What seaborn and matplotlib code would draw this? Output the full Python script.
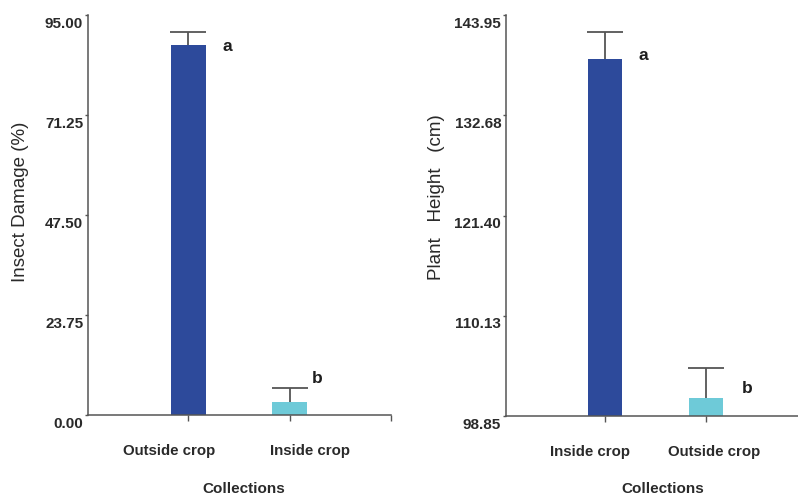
import numpy as np
import matplotlib
matplotlib.use("Agg")
import matplotlib.pyplot as plt
from matplotlib.transforms import ScaledTranslation
import seaborn as sns

# data
dmg_cats = ["Outside crop", "Inside crop"]
dmg_mean = [87.8, 3.2]
dmg_err = [3.2, 3.2]
dmg_ticks = [0.00, 23.75, 47.50, 71.25, 95.00]
dmg_letters = ["a", "b"]

hgt_cats = ["Inside crop", "Outside crop"]
hgt_mean = [139.0, 100.85]
hgt_err = [3.05, 3.4]
hgt_ticks = [98.85, 110.13, 121.40, 132.68, 143.95]
hgt_letters = ["a", "b"]

dark_blue = "#2d4a9b"
light_cyan = "#6ecad8"
grey = "#555555"
txt = "#2a2a2a"

sns.set_style("ticks")
plt.rcParams["font.family"] = ["Liberation Sans", "DejaVu Sans"]

fig = plt.figure(figsize=(7.98, 4.98), dpi=100)
ax1 = fig.add_axes([88 / 798, 1 - 415 / 498, 303 / 798, 400 / 498])
ax2 = fig.add_axes([506 / 798, 1 - 416 / 498, 301 / 798, 401 / 498])


def px(dx, dy):
    # pixel offset -> display transform
    return ScaledTranslation(dx / 100, dy / 100, fig.dpi_scale_trans)


def panel(ax, cats, mean, err, ticks, letters, ylabel, ylab_xy, xlab_xy,
          xlab_shift, letter_off, xlim):
    sns.barplot(x=cats, y=mean, hue=cats, order=cats, hue_order=cats,
                palette=[dark_blue, light_cyan], legend=False, width=0.34,
                saturation=1, ax=ax, linewidth=0)
    eb = ax.errorbar(range(len(cats)), mean, yerr=[np.zeros(len(err)), err],
                     fmt="none", ecolor=grey, elinewidth=1.3, capsize=13,
                     capthick=1.3, zorder=1)
    # only the upper cap is drawn in the original
    eb[1][0].set_visible(False)
    ax.set_xlim(*xlim)
    ax.set_ylim(ticks[0], ticks[-1])
    ax.set_yticks(ticks)
    ax.set_yticklabels(["%.2f" % t for t in ticks])
    for s in ["top", "right"]:
        ax.spines[s].set_visible(False)
    for s in ["left", "bottom"]:
        ax.spines[s].set_color(grey)
        ax.spines[s].set_linewidth(1.1)
    ax.tick_params(axis="y", length=2.5, width=1, color=grey, pad=1,
                   labelsize=11, labelcolor=txt)
    ax.tick_params(axis="x", length=4, width=1, color=grey, pad=17,
                   labelsize=10.8, labelcolor=txt)
    for lab in ax.get_yticklabels():
        lab.set_fontweight("bold")
        lab.set_transform(lab.get_transform() + px(0, -7))
    for lab, sh in zip(ax.get_xticklabels(), xlab_shift):
        lab.set_fontweight("bold")
        lab.set_transform(lab.get_transform() + px(sh, 0))
    ax.set_xlabel("Collections", fontsize=11, fontweight="bold", color=txt)
    ax.xaxis.set_label_coords(*xlab_xy)
    ax.set_ylabel(ylabel, fontsize=13.5, color=txt)
    ax.yaxis.set_label_coords(*ylab_xy)
    for i, (m, l, off) in enumerate(zip(mean, letters, letter_off)):
        ax.annotate(l, (i, m), xytext=(off[0] * 0.72, off[1] * 0.72),
                    textcoords="offset points", ha="center", va="center",
                    fontsize=12.5, fontweight="bold", color="#1e1e1e")


panel(ax1, dmg_cats, dmg_mean, dmg_err, dmg_ticks, dmg_letters,
      "Insect Damage (%)", (-0.195, 0.534), (0.515, -0.167),
      [-19, 20], [(39, -1), (28, 23)], (-0.99, 2.0))
ax1.set_xticks([2.0], minor=True)
ax1.tick_params(axis="x", which="minor", length=4, width=1, color=grey)

panel(ax2, hgt_cats, hgt_mean, hgt_err, hgt_ticks, hgt_letters,
      "Plant   Height   (cm)", (-0.203, 0.547), (0.52, -0.165),
      [-15, 8], [(38, 4), (41, 10)], (-0.98, 2.0))

fig.savefig("out.png", dpi=100)
